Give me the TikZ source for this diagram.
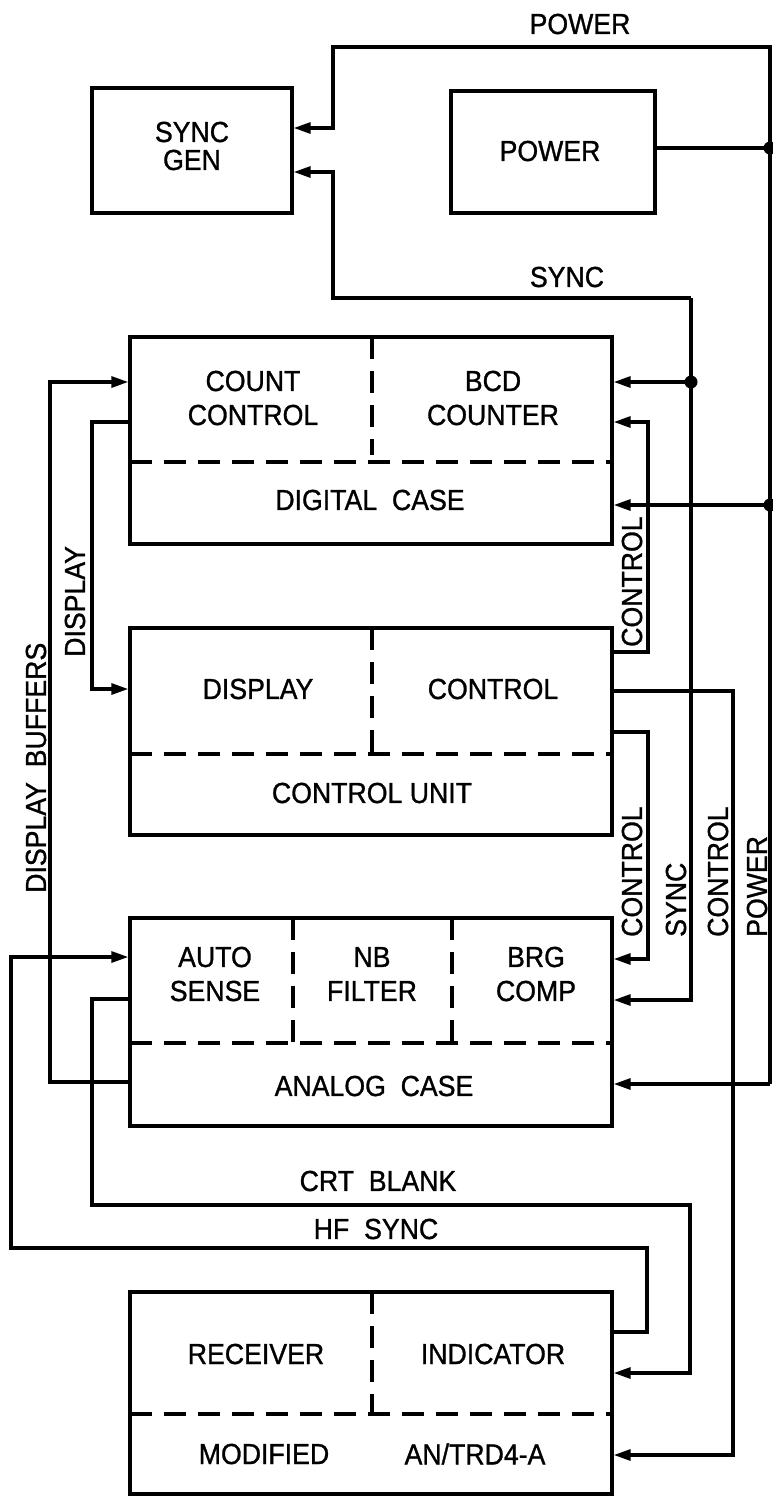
\documentclass[tikz,border=0pt]{standalone}
\usepackage{fontspec}
\setmainfont{Liberation Sans}[FakeStretch=0.92,FakeBold=1]
\usetikzlibrary{arrows.meta}
\newcommand{\lblfont}{\fontsize{29}{29}\selectfont}
\begin{document}
\begin{tikzpicture}[x=1pt,y=-1pt,
  conn/.style={line width=3.2pt},
  box/.style={draw,rectangle,inner sep=0pt,line width=3.4pt},
  lab/.style={font=\lblfont,inner sep=0pt,align=center},
  rlab/.style={lab,rotate=90,anchor=west},
  arr/.style={conn,-{Triangle[length=17pt,width=11pt]}},
  dsh/.style={line width=3.2pt,dash pattern=on 22pt off 12pt},
  dot/.style={circle,fill,inner sep=0pt,minimum size=13pt}]
\useasboundingbox (0,0) rectangle (773,1497);

% boxes
\node[box,minimum width=200pt,minimum height=125pt] (syncgen) at (192,150.5) {};
\node[box,minimum width=204pt,minimum height=122pt] (powerbox) at (553,152) {};
\node[box,minimum width=482pt,minimum height=207pt] (digital) at (371,440.5) {};
\node[box,minimum width=482pt,minimum height=207pt] (ctrlunit) at (371,731.5) {};
\node[box,minimum width=482pt,minimum height=208pt] (analog) at (371,1022) {};
\node[box,minimum width=482pt,minimum height=202pt] (modified) at (371,1393) {};

% internal dashed lines
\draw[dsh] (130,462) -- (612,462);
\draw[dsh] (372,337) -- (372,455);
\draw[dsh] (130,754) -- (612,754);
\draw[dsh] (372,628) -- (372,754);
\draw[dsh] (130,1043) -- (612,1043);
\draw[dsh] (293,918) -- (293,1043);
\draw[dsh] (452,918) -- (452,1043);
\draw[dsh] (130,1414) -- (612,1414);
\draw[dsh] (372,1292) -- (372,1414);

% texts in boxes
\node[lab] (tsync) at (192,146) {SYNC\\[-1pt]GEN};
\node[lab] (tpow) at (550,151) {POWER};
\node[lab] (tcc) at (253,398) {COUNT\\[5pt]CONTROL};
\node[lab] (tbcd) at (493,398) {BCD\\[5pt]COUNTER};
\node[lab] (tdig) at (370,500) {DIGITAL\ \ CASE};
\node[lab] (tdisp) at (258,689) {DISPLAY};
\node[lab] (tctrl) at (493,689) {CONTROL};
\node[lab] (tcu) at (372,793) {CONTROL UNIT};
\node[lab] (tauto) at (215,974) {AUTO\\[5pt]SENSE};
\node[lab] (tnb) at (372,974) {NB\\[5pt]FILTER};
\node[lab] (tbrg) at (536,974) {BRG\\[5pt]COMP};
\node[lab] (tana) at (374,1086) {ANALOG\ \ CASE};
\node[lab] (trec) at (256,1354) {RECEIVER};
\node[lab] (tind) at (493,1354) {INDICATOR};
\node[lab] (tmod) at (264,1454) {MODIFIED};
\node[lab] (tan) at (475,1454) {AN/TRD4-A};

% connector labels
\node[lab] (lpow) at (580,24) {POWER};
\node[lab] (lsync) at (567,277) {SYNC};
\node[lab] (lcrt) at (378,1181) {CRT\ \ BLANK};
\node[lab] (lhf) at (376,1229) {HF\ \ SYNC};
\node[rlab] (ldisp) at (75,657) {DISPLAY};
\node[rlab] (ldb) at (36,893) {DISPLAY\ \ BUFFERS};
\node[rlab] (lc1) at (632,647) {CONTROL};
\node[rlab] (lc2) at (632,937) {CONTROL};
\node[rlab] (ls2) at (676,937) {SYNC};
\node[rlab] (lc3) at (718,937) {CONTROL};
\node[rlab] (lp2) at (757,937) {POWER};

% coordinates
\coordinate (pwA) at (770,1084);
\coordinate (pwT) at (770,47);
\coordinate (pwL) at (333,128);
\coordinate (dP) at (770,148);
\coordinate (dD) at (770,505);
\coordinate (sB) at (691,1000);
\coordinate (sT) at (691,298);
\coordinate (sL) at (333,172);
\coordinate (dS) at (691,382);
\coordinate (c1a) at (648,652);
\coordinate (c1b) at (648,422);
\coordinate (c2a) at (648,732);
\coordinate (c2b) at (648,959);
\coordinate (c3a) at (733,691);
\coordinate (c3b) at (733,1455);
\coordinate (d1a) at (92,422);
\coordinate (d1b) at (92,689);
\coordinate (b1a) at (50,1082);
\coordinate (b1b) at (50,382);
\coordinate (h1a) at (647,1332);
\coordinate (h1b) at (647,1248);
\coordinate (h1c) at (11,1248);
\coordinate (h1d) at (11,957);
\coordinate (r1a) at (92,999);
\coordinate (r1b) at (92,1205);
\coordinate (r1c) at (690,1205);
\coordinate (r1d) at (690,1373);

% power
\draw[arr] (pwA) -- (pwT) -| (pwL) -- (syncgen.east |- pwL);
\draw[arr] (pwA) -- (analog.east |- pwA);
\draw[conn] (powerbox.east |- dP) -- (dP);
\draw[arr] (dD) -- (digital.east |- dD);
\node[dot] (dotP) at (dP) {};
\node[dot] (dotD) at (dD) {};

% sync
\draw[arr] (sT) -| (sL) -- (syncgen.east |- sL);
\draw[arr] (sT) -- (sB) -- (analog.east |- sB);
\draw[arr] (dS) -- (digital.east |- dS);
\node[dot] (dotS) at (dS) {};

% control lines
\draw[arr] (ctrlunit.east |- c1a) -- (c1a) -- (c1b) -- (digital.east |- c1b);
\draw[arr] (ctrlunit.east |- c2a) -- (c2a) -- (c2b) -- (analog.east |- c2b);
\draw[arr] (ctrlunit.east |- c3a) -- (c3a) -- (c3b) -- (modified.east |- c3b);

% display
\draw[arr] (digital.west |- d1a) -- (d1a) -- (d1b) -- (ctrlunit.west |- d1b);
% display buffers
\draw[arr] (analog.west |- b1a) -- (b1a) -- (b1b) -- (digital.west |- b1b);
% hf sync
\draw[arr] (modified.east |- h1a) -- (h1a) -- (h1b) -- (h1c) -- (h1d) -- (analog.west |- h1d);
% crt blank
\draw[arr] (analog.west |- r1a) -- (r1a) -- (r1b) -- (r1c) -- (r1d) -- (modified.east |- r1d);
\end{tikzpicture}
\end{document}
